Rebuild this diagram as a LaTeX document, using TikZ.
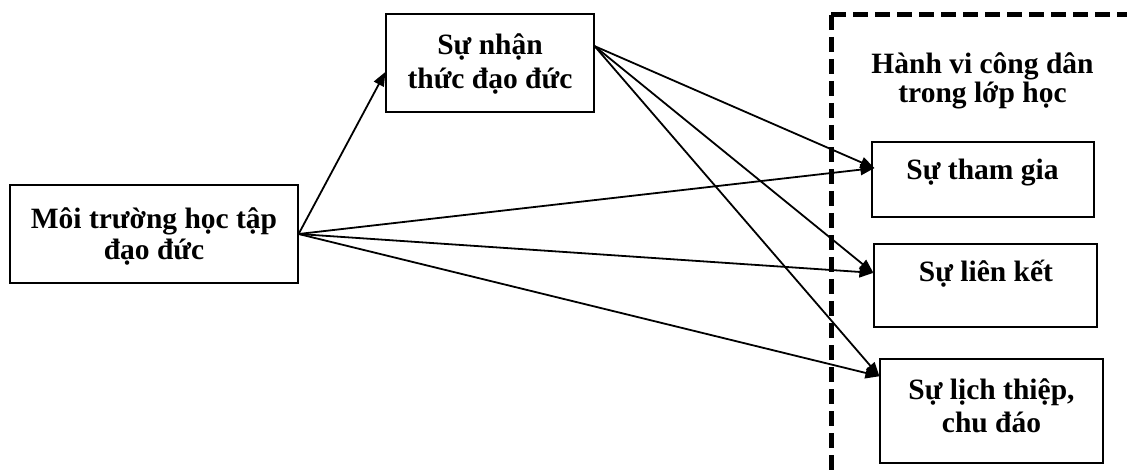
\documentclass[tikz,border=0pt]{standalone}
\usepackage{fontspec}
\setmainfont{Liberation Serif}
\usetikzlibrary{arrows.meta,calc}
\tikzset{
  box/.style={draw=black, line width=1.2pt, minimum width=#1, inner sep=0pt},
  lbl/.style={align=center, inner sep=0pt, font=\bfseries\fontsize{29.5}{32}\selectfont},
  conn/.style={line width=1.8pt, -{Triangle[length=14pt,width=11pt]}},
  frame/.style={line width=5pt, dash pattern=on 15pt off 7pt}
}
\begin{document}
\begin{tikzpicture}[x=1pt,y=-1pt]
\clip (0,0) rectangle (1127,470);
\fill[white] (0,0) rectangle (1127,470);
% dashed frame
\draw[frame] (831,15) -- (1150,15) (831,15) -- (831,490);
% boxes
\node[box=288pt, minimum height=98pt] (b1) at (154,234) {};
\node[box=208pt, minimum height=98pt] (b2) at (490,63) {};
\node[box=222pt, minimum height=75pt] (b3) at (983,179.5) {};
\node[box=223pt, minimum height=83pt] (b4) at (985.5,285.5) {};
\node[box=223pt, minimum height=104pt] (b5) at (991.5,411) {};
% labels
\node[lbl, font=\bfseries\fontsize{29.5}{31}\selectfont] (t1) at (154,236) {Môi trường học tập\\đạo đức};
\node[lbl, font=\bfseries\fontsize{29.5}{34}\selectfont] (t2) at (490,63.5) {Sự nhận\\thức đạo đức};
\node[lbl, font=\bfseries\fontsize{29.5}{29}\selectfont] (th) at (982.5,80.5) {Hành vi công dân\\trong lớp học};
\node[lbl, anchor=base] (t3) at (982.5,180) {Sự tham gia};
\node[lbl, anchor=base] (t4) at (986,282) {Sự liên kết};
\node[lbl, font=\bfseries\fontsize{29.5}{33}\selectfont] (t5) at (991.5,405.5) {Sự lịch thiệp,\\chu đáo};
% anchor points
\coordinate (s2) at ($(b2.north east)!0.33!(b2.south east)$);
\coordinate (e2) at ($(b2.north west)!0.59!(b2.south west)$);
\coordinate (e3) at ($(b3.north west)!0.35!(b3.south west)+(3,0)$);
\coordinate (e4) at ($(b4.north west)!0.35!(b4.south west)$);
\coordinate (e5) at ($(b5.north west)!0.17!(b5.south west)$);
% connectors
\draw[conn] (b1.east) -- (e2);
\draw[conn] (b1.east) -- (e3);
\draw[conn] (b1.east) -- (e4);
\draw[conn] (b1.east) -- (e5);
\draw[conn] (s2) -- (e3);
\draw[conn] (s2) -- (e4);
\draw[conn] (s2) -- (e5);
\end{tikzpicture}
\end{document}
